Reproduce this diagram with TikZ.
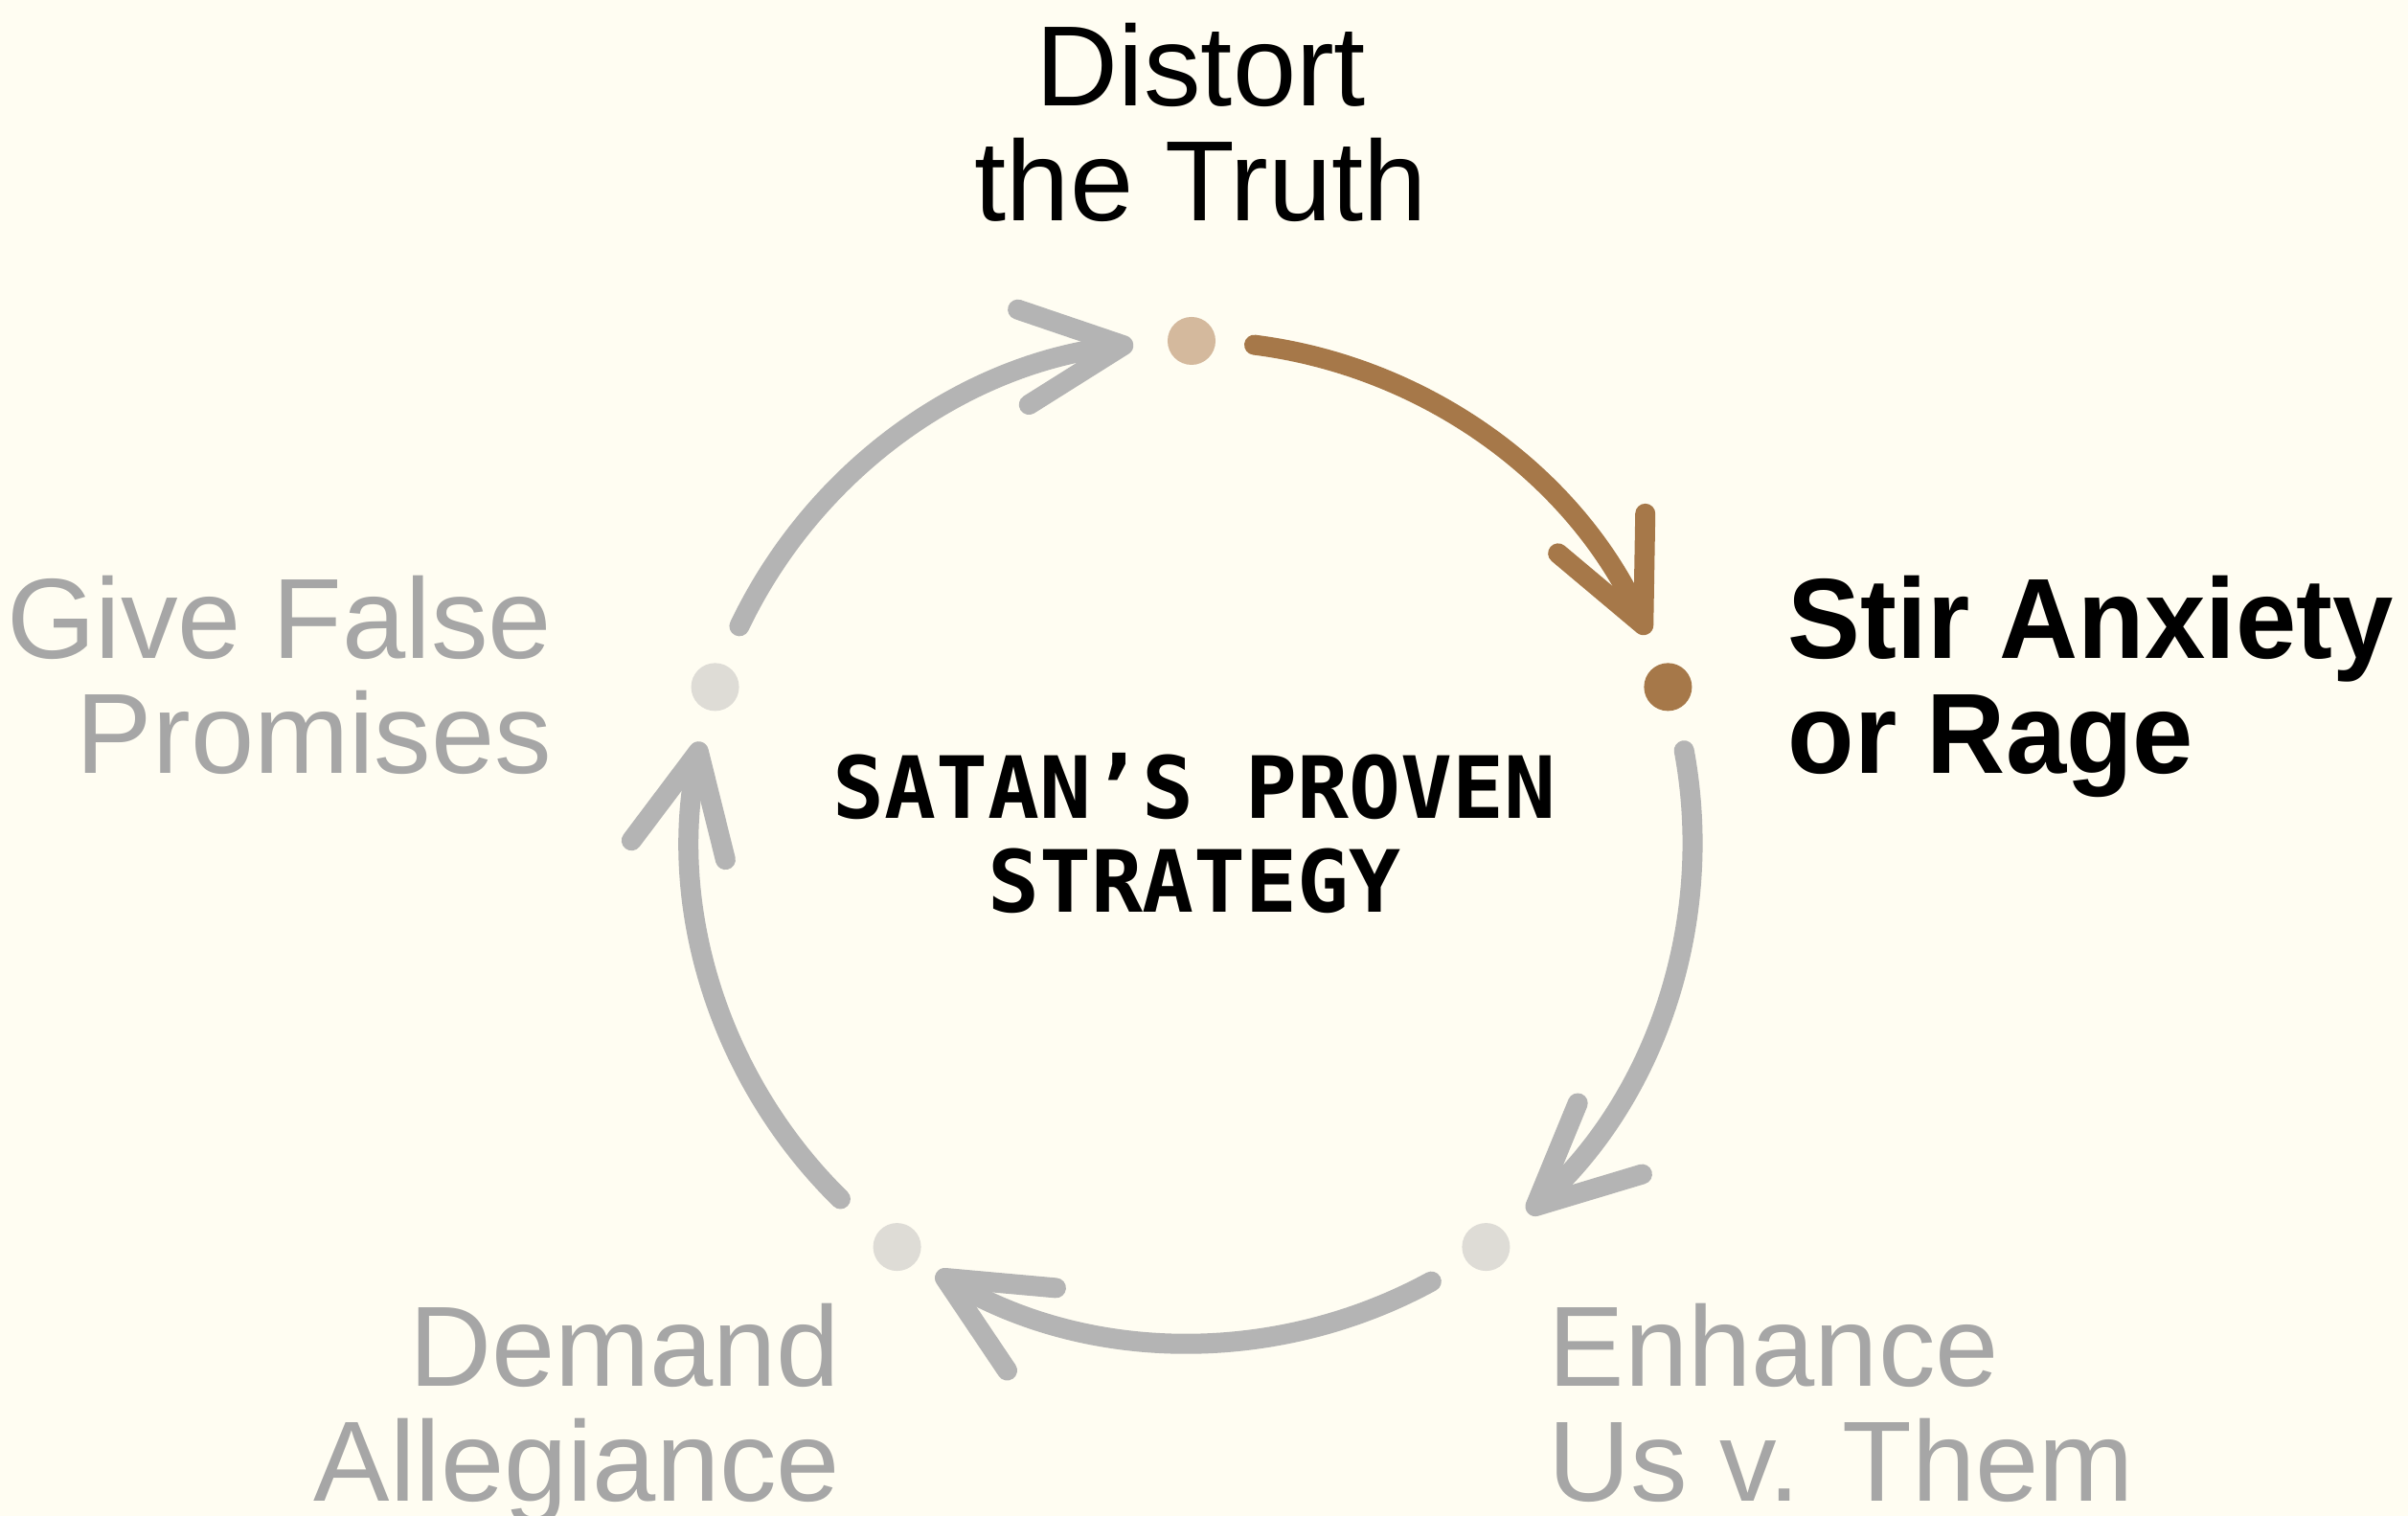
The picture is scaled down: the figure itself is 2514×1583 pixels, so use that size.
\documentclass[tikz,border=0pt]{standalone}
\usepackage{fontspec}
\setmainfont{Liberation Sans}
\newfontfamily\lblfont{Liberation Sans}
\newfontfamily\lblboldfont[FakeStretch=0.955]{Liberation Sans}
\newfontfamily\monofnt{DejaVu Sans Mono}
\usetikzlibrary{arrows.meta}
\definecolor{bgcol}{HTML}{FFFDF2}
\definecolor{arrowgray}{HTML}{B4B4B4}
\definecolor{textgray}{HTML}{A6A6A6}
\definecolor{browncol}{HTML}{A67849}
\definecolor{tandot}{HTML}{D4B99D}
\definecolor{graydot}{HTML}{DEDCD6}
\tikzset{
  dotnode/.style={circle,inner sep=0pt,minimum size=0.5cm,draw=none},
  cyclearrow/.style={line width=0.21cm,line cap=round,
    -{Straight Barb[length=1.05cm,width=1.0cm,round]}},
  biglabel/.style={inner sep=0pt,font=\lblfont\fontsize{33.87pt}{34.15pt}\selectfont},
  boldlabel/.style={inner sep=0pt,font=\lblboldfont\bfseries\fontsize{33.87pt}{34.15pt}\selectfont},
  centertext/.style={inner sep=0pt,align=center,font=\monofnt\bfseries\fontsize{25.5pt}{27.9pt}\selectfont}
}
\begin{document}
\begin{tikzpicture}[x=0.01cm,y=0.01cm]
\fill[bgcol] (-1244,-704) rectangle (1270,879);
\useasboundingbox (-1244,-704) rectangle (1270,879);

% dots
\node[dotnode,fill=tandot] (dtop) at (90:523) {};
\node[dotnode,fill=browncol] (dright) at (18:523) {};
\node[dotnode,fill=graydot] (dbr) at (-54:523) {};
\node[dotnode,fill=graydot] (dbl) at (-126:523) {};
\node[dotnode,fill=graydot] (dleft) at (162:523) {};

% arc start points
\coordinate (sA) at (154.5:523);
\coordinate (sB) at (82.8:523);
\coordinate (sC) at (10.5:523);
\coordinate (sD) at (-61.4:523);
\coordinate (sE) at (-134.5:523);

\draw[cyclearrow,arrowgray] (sA) arc[start angle=154.5,end angle=96.7,radius=5.23cm];
\draw[cyclearrow,browncol] (sB) arc[start angle=82.8,end angle=24.5,radius=5.23cm];
\draw[cyclearrow,arrowgray] (sC) arc[start angle=10.5,end angle=-47.8,radius=5.23cm];
\draw[cyclearrow,arrowgray] (sD) arc[start angle=-61.4,end angle=-120.6,radius=5.23cm];
\draw[cyclearrow,arrowgray] (sE) arc[start angle=-134.5,end angle=-191.5,radius=5.23cm];

% labels (anchor base = baseline of last line)
\node[biglabel,align=center,anchor=base] (ltop) at (10,648) {Distort\\the Truth};
\node[boldlabel,align=left,anchor=base west] (lright) at (622,71) {Stir Anxiety\\or Rage};
\node[biglabel,align=right,anchor=base east,text=textgray] (lleft) at (-667,71) {Give False\\Promises};
\node[biglabel,align=right,anchor=base east,text=textgray] (lbl) at (-366,-689) {Demand\\Allegiance};
\node[biglabel,align=left,anchor=base west,text=textgray] (lbr) at (372,-689) {Enhance\\Us v. Them};

\node[centertext,anchor=base] (center) at (3,-74) {SATAN’S PROVEN\\STRATEGY};
\end{tikzpicture}
\end{document}
